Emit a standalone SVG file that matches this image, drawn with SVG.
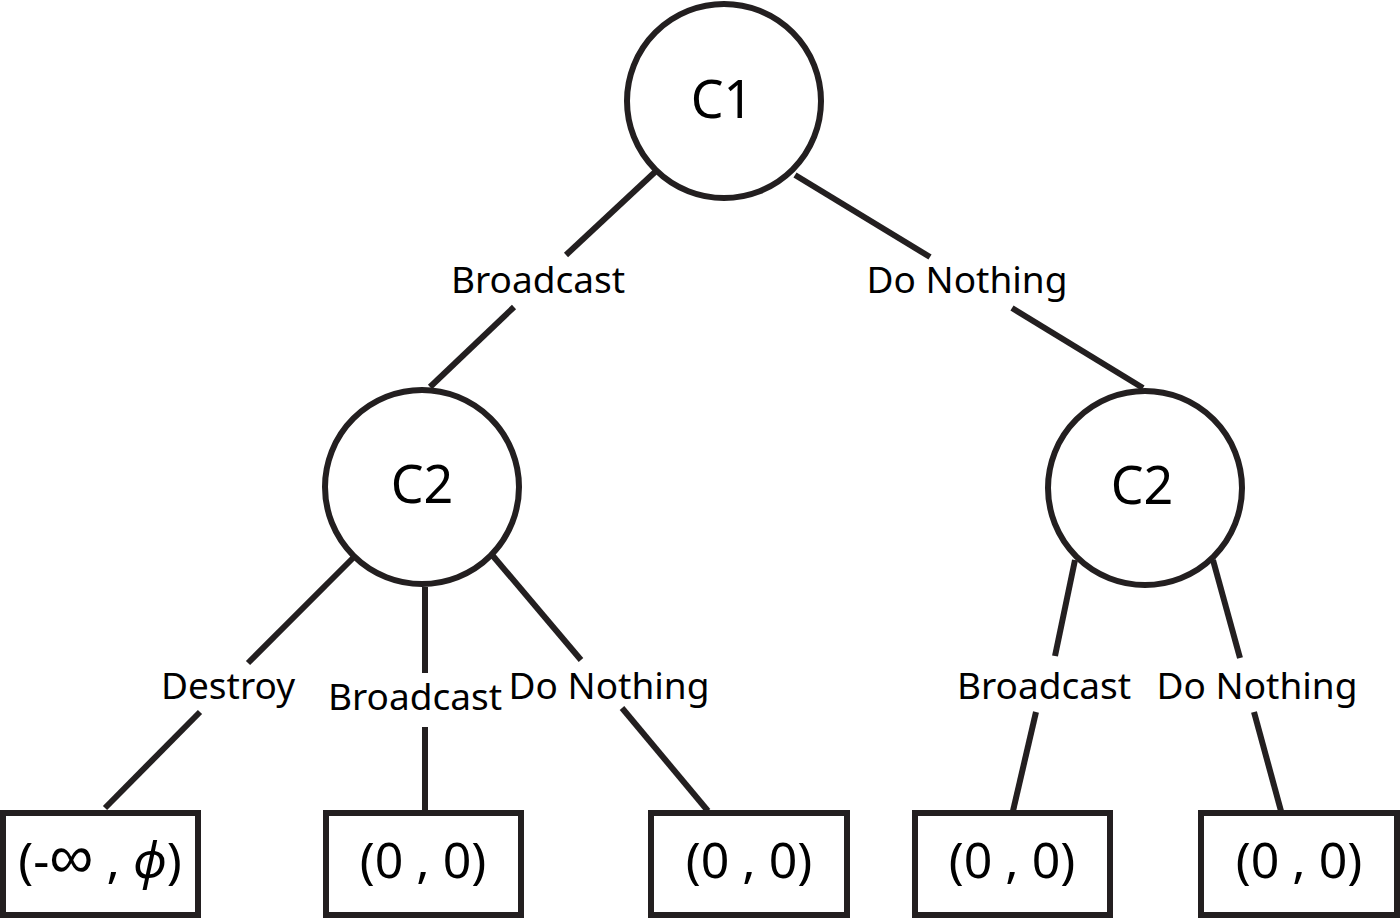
<svg xmlns="http://www.w3.org/2000/svg" width="1400" height="919" viewBox="0 0 1400 919">
<style>
.node{fill:#fff;stroke:#231f20;stroke-width:6}
.edge{stroke:#231f20;stroke-width:6;fill:none}
text{font-family:"Noto Sans","Liberation Sans",sans-serif;fill:#000;text-anchor:middle}
.big{font-size:52px}
.lbl{font-size:37px}
.val{font-size:50px}
</style>
<rect width="1400" height="919" fill="#fff"/>
<g id="connectors">
<line class="edge" x1="655" y1="172" x2="566" y2="255"/>
<line class="edge" x1="514" y1="307" x2="430" y2="387"/>
<line class="edge" x1="795" y1="175" x2="930" y2="257"/>
<line class="edge" x1="1012" y1="308" x2="1143" y2="388"/>
<line class="edge" x1="353" y1="558" x2="248" y2="663"/>
<line class="edge" x1="200" y1="712" x2="105" y2="808"/>
<line class="edge" x1="425" y1="587" x2="425" y2="673"/>
<line class="edge" x1="425" y1="727" x2="425" y2="811"/>
<line class="edge" x1="493" y1="556" x2="581" y2="660"/>
<line class="edge" x1="622" y1="708" x2="708" y2="811"/>
<line class="edge" x1="1075" y1="560" x2="1055" y2="656"/>
<line class="edge" x1="1036" y1="712" x2="1013" y2="811"/>
<line class="edge" x1="1213" y1="560" x2="1240" y2="658"/>
<line class="edge" x1="1254" y1="712" x2="1281" y2="811"/>
</g>
<g id="labels">
<text class="lbl" x="538" y="293">Broadcast</text>
<text class="lbl" x="967" y="293">Do Nothing</text>
<text class="lbl" x="228" y="699">Destroy</text>
<text class="lbl" x="415" y="710">Broadcast</text>
<text class="lbl" x="609" y="699">Do Nothing</text>
<text class="lbl" x="1044" y="699">Broadcast</text>
<text class="lbl" x="1257" y="699">Do Nothing</text>
</g>
<g id="c1">
<circle class="node" cx="724" cy="101" r="97"/>
<text class="big" x="722" y="118">C1</text>
</g>
<g id="c2-left">
<circle class="node" cx="422" cy="487" r="97"/>
<text class="big" x="422" y="503">C2</text>
</g>
<g id="c2-right">
<circle class="node" cx="1145" cy="488" r="97"/>
<text class="big" x="1142" y="504">C2</text>
</g>
<g id="leaf1">
<rect class="node" x="3" y="813" width="195" height="102"/>
<text class="val" x="100" y="878">(-<tspan font-size="62">∞</tspan> , <tspan font-style="italic">ϕ</tspan>)</text>
</g>
<g id="leaf2">
<rect class="node" x="326" y="813" width="195" height="102"/>
<text class="val" x="423" y="878">(0 , 0)</text>
</g>
<g id="leaf3">
<rect class="node" x="651" y="813" width="196" height="102"/>
<text class="val" x="749" y="878">(0 , 0)</text>
</g>
<g id="leaf4">
<rect class="node" x="915" y="813" width="195" height="102"/>
<text class="val" x="1012" y="878">(0 , 0)</text>
</g>
<g id="leaf5">
<rect class="node" x="1201" y="813" width="196" height="102"/>
<text class="val" x="1299" y="878">(0 , 0)</text>
</g>
</svg>
